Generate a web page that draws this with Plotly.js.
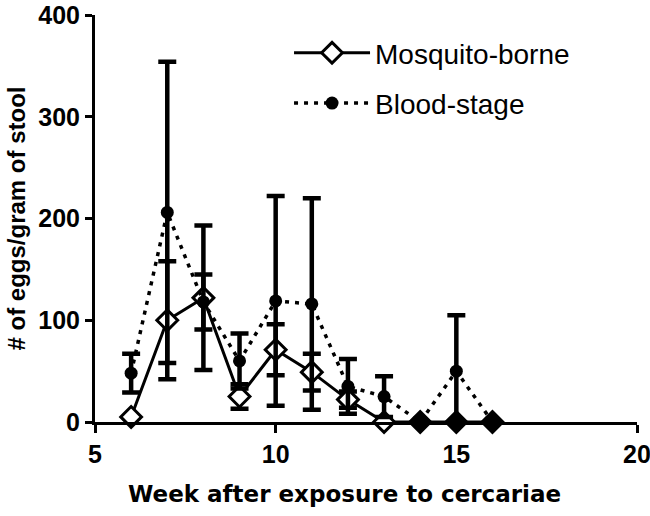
<!DOCTYPE html>
<html>
<head>
<meta charset="utf-8">
<script src="https://cdn.plot.ly/plotly-3.0.1.min.js"></script>
<style>html,body{margin:0;padding:0;background:#fff}#chart{width:650px;height:516px}</style>
</head>
<body>
<div id="chart"></div>
<script>
const weeks = [6, 7, 8, 9, 10, 11, 12, 13, 14, 15, 16];
const mosquitoMean = [5, 100, 122, 25, 71, 49, 22, 0, 0, 0, 0];
const mosquitoErr = [0, 58, 71, 12, 25, 18, 8, 0, 0, 0, 0];
const bloodMean = [48, 206, 118, 60, 119, 116, 35, 25, 0, 50, 0];
const bloodErr = [19, 148, 27, 27, 103, 104, 27, 20, 0, 55, 0];
const mosquitoFill = ['white','white','white','white','white','white','white','white','black','black','black'];
const xTicks = [5, 10, 15, 20];
const yTicks = [0, 100, 200, 300, 400];
const xTitle = 'Week after exposure to cercariae';
const yTitle = '# of eggs/gram of stool';

const FONT = 'Liberation Sans, Arial, sans-serif';
const WIDE = 'DejaVu Sans, sans-serif';

const traces = [
  {
    x: weeks, y: mosquitoMean, name: 'Mosquito-borne', type: 'scatter', mode: 'lines+markers',
    legendgroup: 'a', cliponaxis: false,
    line: {color: 'black', width: 3},
    marker: {symbol: 'diamond', size: 16, color: mosquitoFill, line: {color: 'black', width: 3}},
    error_y: {type: 'data', array: mosquitoErr, visible: true, color: 'black', thickness: 4.5, width: 9}
  },
  {
    x: weeks, y: bloodMean, name: 'Blood-stage', type: 'scatter', mode: 'lines+markers',
    legendgroup: 'b', cliponaxis: false,
    line: {color: 'black', width: 3.5, dash: '4px,6px'},
    marker: {symbol: 'circle', size: 13, color: 'black'},
    error_y: {type: 'data', array: bloodErr, visible: true, color: 'black', thickness: 4.5, width: 9}
  }
];

const layout = {
  width: 650, height: 516,
  margin: {l: 95, r: 13, t: 15, b: 94, pad: 0},
  paper_bgcolor: 'white', plot_bgcolor: 'white',
  showlegend: true,
  legend: {
    x: 0.358, y: 0.968, xanchor: 'left', yanchor: 'top',
    font: {family: FONT, size: 28, color: 'black'},
    traceorder: 'grouped', tracegroupgap: 11,
    itemwidth: 76,
    bgcolor: 'rgba(0,0,0,0)'
  },
  xaxis: {
    range: [5, 20], tickvals: xTicks, ticktext: xTicks.map(String),
    showgrid: false, zeroline: false,
    showline: true, linecolor: 'black', linewidth: 3,
    ticks: 'outside', ticklen: 8, tickwidth: 3, tickcolor: 'black',
    ticklabeloverflow: 'allow',
    tickfont: {family: FONT, size: 25, color: 'black', weight: 'bold'}
  },
  yaxis: {
    range: [0, 400], tickvals: yTicks, ticktext: yTicks.map(String),
    showgrid: false, zeroline: false,
    showline: true, linecolor: 'black', linewidth: 3,
    ticks: 'outside', ticklen: 7, tickwidth: 3, tickcolor: 'black',
    ticklabeloverflow: 'allow',
    tickfont: {family: FONT, size: 25, color: 'black', weight: 'bold'},
    title: {text: yTitle, standoff: 6,
            font: {family: FONT, size: 24, color: 'black', weight: 'bold'}}
  },
  annotations: [{
    text: xTitle, xref: 'paper', yref: 'paper', x: 0.461, y: -0.177,
    xanchor: 'center', yanchor: 'middle', showarrow: false,
    font: {family: WIDE, size: 23, color: 'black', weight: 'bold'}
  }]
};

Plotly.newPlot('chart', traces, layout, {staticPlot: true, displayModeBar: false});
</script>
</body>
</html>
